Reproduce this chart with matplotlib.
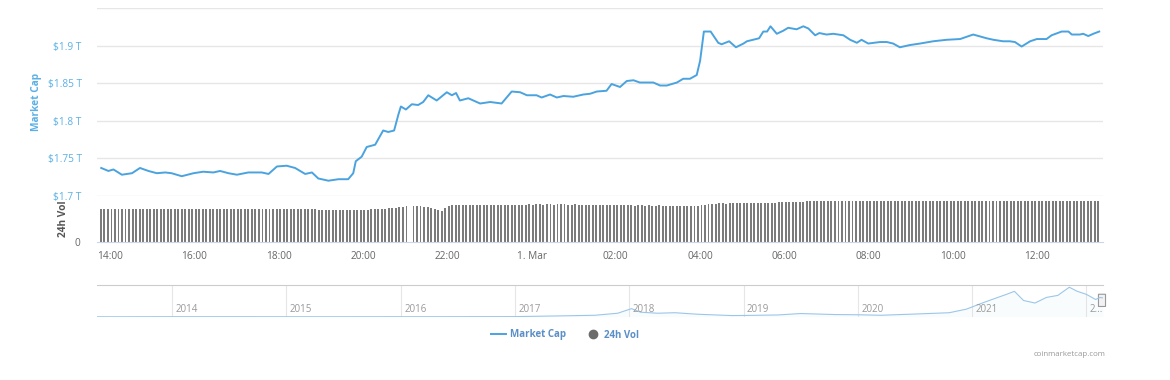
import numpy as np
import matplotlib.pyplot as plt
from matplotlib.lines import Line2D
from matplotlib.patches import FancyBboxPatch
from matplotlib.transforms import blended_transform_factory

plt.rcParams['font.family'] = ['Open Sans', 'DejaVu Sans']

# Market cap in trillion USD, time in hours after 28 Feb 14:00
cap_hours = [-0.21, -0.04, 0.08, 0.28, 0.52, 0.71, 0.91, 1.11, 1.31, 1.46, 1.70, 1.98,
             2.21, 2.45, 2.61, 2.81, 3.01, 3.28, 3.60, 3.76, 3.96, 4.19, 4.39, 4.63,
             4.79, 4.94, 5.18, 5.42, 5.65, 5.77, 5.83, 5.97, 6.09, 6.29, 6.48, 6.60,
             6.74, 6.84, 6.90, 7.02, 7.16, 7.31, 7.43, 7.55, 7.75, 7.99, 8.11, 8.21,
             8.30, 8.50, 8.78, 9.02, 9.29, 9.53, 9.73, 9.89, 10.12, 10.24, 10.44, 10.60,
             10.76, 10.99, 11.23, 11.39, 11.55, 11.78, 11.90, 12.10, 12.26, 12.42, 12.57, 12.89,
             13.05, 13.21, 13.45, 13.60, 13.76, 13.92, 14.00, 14.09, 14.25, 14.43, 14.51, 14.69,
             14.85, 15.03, 15.11, 15.40, 15.50, 15.59, 15.67, 15.82, 15.97, 16.09, 16.29, 16.45,
             16.57, 16.73, 16.83, 17.00, 17.16, 17.40, 17.56, 17.72, 17.83, 17.99, 18.27, 18.43,
             18.58, 18.74, 18.98, 19.22, 19.53, 19.85, 20.17, 20.48, 20.80, 20.96, 21.19, 21.35,
             21.47, 21.63, 21.83, 21.99, 22.22, 22.34, 22.58, 22.74, 22.82, 23.01, 23.09, 23.21,
             23.33, 23.47]
cap_values = [1.737, 1.733, 1.735, 1.728, 1.730, 1.737, 1.733, 1.730, 1.731, 1.730, 1.726, 1.730,
              1.732, 1.731, 1.733, 1.730, 1.728, 1.731, 1.731, 1.729, 1.739, 1.740, 1.737, 1.729,
              1.731, 1.723, 1.720, 1.722, 1.722, 1.730, 1.746, 1.752, 1.765, 1.768, 1.787, 1.785,
              1.787, 1.808, 1.819, 1.815, 1.822, 1.821, 1.825, 1.834, 1.827, 1.838, 1.834, 1.837,
              1.827, 1.830, 1.823, 1.825, 1.823, 1.839, 1.838, 1.834, 1.834, 1.831, 1.835, 1.831,
              1.833, 1.832, 1.835, 1.836, 1.839, 1.840, 1.849, 1.845, 1.853, 1.854, 1.851, 1.851,
              1.847, 1.847, 1.851, 1.856, 1.856, 1.861, 1.880, 1.919, 1.919, 1.904, 1.902, 1.906,
              1.898, 1.903, 1.906, 1.910, 1.919, 1.919, 1.926, 1.916, 1.920, 1.924, 1.922, 1.926,
              1.923, 1.914, 1.917, 1.915, 1.916, 1.914, 1.908, 1.904, 1.908, 1.903, 1.905, 1.905,
              1.903, 1.898, 1.901, 1.903, 1.906, 1.908, 1.909, 1.915, 1.910, 1.908, 1.906, 1.906,
              1.905, 1.899, 1.906, 1.909, 1.909, 1.914, 1.919, 1.919, 1.915, 1.915, 1.916, 1.913,
              1.916, 1.919]

# 24h volume bars, 5 minute steps starting 13:47
vol_start = -13 / 60
vol_step = 5 / 60
vol_values = [
    120, 121, 120, 121, 120, 119, 120, 121, 120, 120, 119, 121,
    120, 120, 119, 120, 121, 120, 120, 119, 120, 121, 120, 120,
    121, 120, 120, 119, 120, 120, 121, 120, 119, 120, 120, 121,
    120, 119, 120, 120, 121, 120, 120, 120, 119, 120, 121, 120,
    120, 120, 121, 121, 120, 120, 119, 120, 120, 120, 119, 119,
    119, 119, 118, 118, 117, 117, 117, 116, 116, 117, 116, 116,
    116, 117, 117, 118, 118, 119, 119, 120, 121, 122, 123, 124,
    125, 127, 128, 130, 0, 131, 131, 130, 128, 126, 123, 120,
    116, 113, 125, 132, 134, 134, 134, 134, 133, 134, 134, 134,
    134, 135, 134, 135, 135, 134, 135, 136, 135, 135, 136, 135,
    136, 136, 137, 136, 137, 137, 136, 137, 137, 136, 137, 137,
    137, 136, 136, 137, 136, 136, 135, 136, 135, 135, 134, 135,
    134, 134, 133, 134, 133, 133, 134, 133, 132, 133, 133, 132,
    133, 132, 132, 133, 132, 132, 131, 132, 132, 131, 132, 132,
    132, 131, 132, 133, 136, 139, 140, 140, 141, 141, 140, 141,
    141, 142, 141, 142, 142, 141, 142, 143, 142, 142, 143, 143,
    143, 144, 144, 145, 146, 146, 147, 147, 147, 148, 148, 148,
    148, 149, 148, 149, 149, 148, 149, 149, 148, 149, 149, 149,
    149, 148, 149, 149, 149, 148, 149, 149, 149, 148, 149, 149,
    149, 149, 148, 149, 149, 149, 149, 148, 149, 149, 150, 149,
    149, 150, 149, 149, 150, 149, 149, 150, 150, 149, 150, 150,
    150, 149, 150, 150, 150, 150, 149, 150, 150, 150, 150, 149,
    150, 150, 150, 149, 150, 150, 150, 150, 150, 150, 149, 150,
    150, 150, 150, 150, 150, 149, 150, 150, 148]

tick_hours = [0, 2, 4, 6, 8, 10, 12, 14, 16, 18, 20, 22]
tick_labels = ['14:00', '16:00', '18:00', '20:00', '22:00', '1. Mar',
               '02:00', '04:00', '06:00', '08:00', '10:00', '12:00']

price_ticks = [1.7, 1.75, 1.8, 1.85, 1.9, 1.95]
price_labels = ['$1.7 T', '$1.75 T', '$1.8 T', '$1.85 T', '$1.9 T', '']

# navigator: whole history, market cap in trillion USD
nav_years = [2013.34, 2013.6, 2014.0, 2014.5, 2015.0, 2015.5, 2016.0, 2016.5, 2017.0,
             2017.4, 2017.7, 2017.9, 2018.02, 2018.1, 2018.25, 2018.4, 2018.6, 2018.9,
             2019.0, 2019.3, 2019.5, 2019.8, 2020.0, 2020.2, 2020.5, 2020.8, 2020.95,
             2021.1, 2021.3, 2021.37, 2021.45, 2021.55, 2021.65, 2021.75, 2021.85,
             2021.92, 2022.0, 2022.08, 2022.12, 2022.145]
nav_values = [0.002, 0.002, 0.010, 0.007, 0.005, 0.004, 0.007, 0.010, 0.018,
              0.09, 0.15, 0.35, 0.80, 0.45, 0.35, 0.40, 0.25, 0.12,
              0.13, 0.18, 0.32, 0.22, 0.20, 0.15, 0.27, 0.40, 0.75,
              1.40, 2.20, 2.50, 1.60, 1.35, 1.90, 2.10, 2.90,
              2.50, 2.20, 1.70, 1.90, 1.85]
year_ticks = [2014, 2015, 2016, 2017, 2018, 2019, 2020, 2021, 2022]
year_labels = ['2014', '2015', '2016', '2017', '2018', '2019', '2020', '2021', '2...']

blue = '#4aa3df'
grid = '#e6e6e6'
xlim = (-0.31, 23.56)

fig = plt.figure(figsize=(11.7, 3.8), dpi=100)
left, width = 97 / 1170, 1006 / 1170

# price panel
ax = fig.add_axes([left, 1 - 195.7 / 380, width, 187.4 / 380])
line, = ax.plot(cap_hours, cap_values, color=blue, lw=1.4)
ax.set_xlim(*xlim)
ax.set_ylim(1.7, 1.95)
ax.set_yticks(price_ticks)
ax.set_yticklabels(price_labels)
ax.grid(axis='y', color=grid, lw=1)
ax.set_xticks([])
ax.tick_params(axis='y', length=0, pad=11, labelsize=7.3, labelcolor='#5bb0e4')
for s in ax.spines.values():
    s.set_visible(False)
fig.text(37 / 1170, 1 - 102 / 380, 'Market Cap', rotation=90, ha='center', va='center',
         color='#5bb0e4', fontsize=7.3, fontweight='bold')

# volume panel
axv = fig.add_axes([left, 1 - 242.3 / 380, width, 44.3 / 380])
bar_x = vol_start + vol_step * np.arange(len(vol_values))
axv.bar(bar_x, vol_values, width=vol_step * 0.55, color='#7b7b7b', align='center')
axv.set_xlim(*xlim)
axv.set_ylim(0, 160)
axv.set_yticks([0])
axv.set_xticks(tick_hours)
axv.set_xticklabels(tick_labels)
axv.tick_params(axis='y', length=0, pad=12, labelsize=7.3, labelcolor='#666666')
axv.tick_params(axis='x', length=0, pad=6, labelsize=7.3, labelcolor='#666666')
for s in ['top', 'left', 'right']:
    axv.spines[s].set_visible(False)
axv.spines['bottom'].set_color('#ccd6eb')
axv.patch.set_alpha(0)
fig.text(63 / 1170, 1 - 219 / 380, '24h Vol', rotation=90, ha='center', va='center',
         color='#555555', fontsize=7.3, fontweight='bold')

# navigator
axn = fig.add_axes([left, 1 - 317 / 380, width, 32 / 380])
axn.plot(nav_years, nav_values, color='#9cc6e8', lw=0.8)
axn.fill_between(nav_years, nav_values, color='#9cc6e8', alpha=0.05, lw=0)
axn.set_xlim(2013.344, 2022.145)
axn.set_ylim(-0.02, 3.12)
axn.set_xticks([])
axn.set_yticks([])
for s in ['bottom', 'left', 'right']:
    axn.spines[s].set_visible(False)
axn.spines['top'].set_color('#cccccc')
tr = blended_transform_factory(axn.transData, axn.transAxes)
for yr, lab in zip(year_ticks, year_labels):
    axn.axvline(yr, color=grid, lw=0.8, zorder=0)
    axn.annotate(lab, (yr, 0.22), xycoords=tr, xytext=(2.5, 0), textcoords='offset points',
                 ha='left', va='center', fontsize=7, color='#999999')
axn.add_patch(FancyBboxPatch((0.9965, 0.33), 0.005, 0.38, boxstyle='round,pad=0.001',
                             transform=axn.transAxes, fc='#f2f2f2', ec='#999999',
                             lw=0.8, clip_on=False))

# legend
handles = [line, Line2D([], [], marker='o', ls='', color='#6b6b6b', ms=6)]
fig.legend(handles, ['Market Cap', '24h Vol'], loc='center', bbox_to_anchor=(0.483, 1 - 335 / 380),
           ncol=2, frameon=False, handlelength=1.5, handletextpad=0.4, columnspacing=2.0,
           prop={'size': 7, 'weight': 'bold'}, labelcolor='#5b8fc7')

fig.text(1105 / 1170, 1 - 354 / 380, 'coinmarketcap.com', ha='right', va='center',
         fontsize=5.7, color='#999999')

fig.savefig('out.png', dpi=100)
